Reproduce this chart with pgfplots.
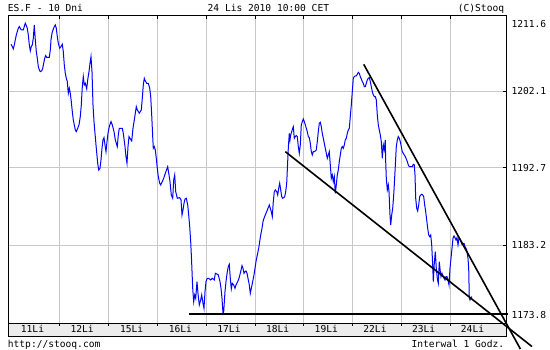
\documentclass[border=0pt]{standalone}
\usepackage{fontspec}
\setmainfont{DejaVu Sans Mono}
\usepackage{pgfplots}
\pgfplotsset{compat=1.18}
\definecolor{gridgray}{RGB}{200,200,200}
\definecolor{bandgray}{RGB}{236,236,236}
\newcommand{\sq}{\fontsize{9.6pt}{11pt}\selectfont}

\begin{document}
\begin{tikzpicture}[font=\sq]
\useasboundingbox (-8.3pt,-26.5pt) rectangle (541.7pt,323.5pt);
% label band under the plot
\fill[bandgray] (0,-13.5pt) rectangle (498pt,0pt);
\draw[line width=1pt] (0,-13.5pt) rectangle (498pt,0pt);
\foreach \X in {51,100,149,198,247.4,295.4,344.2,393,442}
  \draw[line width=1pt] (\X pt,0pt) -- (\X pt,-3pt);
\foreach \X/\L in {24.2/11Li,73.8/12Li,123.3/15Li,172.1/16Li,220.7/17Li,269.4/18Li,318.0/19Li,366.7/22Li,415.4/23Li,464.2/24Li}
  \node[anchor=base, inner sep=0pt] at (\X pt,-9.3pt) {\L};

\begin{axis}[
  scale only axis, width=498pt, height=308pt,
  at={(0pt,0pt)}, anchor=south west,
  xmin=8.3, xmax=506.3, ymin=1173.6, ymax=1211.4,
  clip=false,
  axis line style={line width=1pt},
  grid=major,
  grid style={gridgray, line width=1pt},
  xtick={59.3,108.3,157.3,206.3,255.7,303.7,352.5,401.3,450.3},
  xticklabels={},
  ytick={1183.2,1192.7,1202.1},
  yticklabels={1183.2,1192.7,1202.1},
  xtick pos=upper, ytick pos=upper, yticklabel pos=upper,
  tick align=inside,
  major tick length=3.5pt,
  tick style={black, line width=1pt},
  yticklabel style={font=\sq, anchor=west, inner sep=0pt, xshift=5pt},
]
\addplot[color=blue, line width=1pt, mark=none] coordinates {
(11.0,1207.87) (12.3,1207.58) (13.3,1207.30) (14.3,1207.79) (15.3,1208.40) (16.3,1209.01)
(17.3,1209.42) (18.3,1209.83) (19.3,1210.04) (20.3,1209.83) (21.3,1209.63) (22.3,1209.63)
(23.3,1209.63) (24.3,1210.04) (25.3,1210.45) (26.3,1210.16) (27.3,1209.83) (28.3,1209.01)
(29.3,1207.79) (30.3,1207.05) (31.3,1207.58) (32.3,1207.79) (33.3,1208.61) (34.3,1210.24)
(35.3,1208.40) (36.3,1206.97) (37.3,1206.15) (38.3,1205.13) (39.3,1204.72) (40.3,1204.51)
(41.7,1204.60) (42.7,1204.92) (43.7,1205.54) (44.7,1206.15) (45.7,1206.48) (46.7,1206.27)
(48.3,1206.27) (49.3,1206.27) (50.3,1207.17) (51.0,1208.40) (52.0,1209.22) (53.0,1209.63)
(54.3,1210.04) (55.3,1210.24) (56.3,1209.83) (57.3,1208.81) (58.3,1207.99) (59.7,1207.38)
(61.0,1207.58) (62.3,1207.87) (63.3,1206.97) (64.3,1205.33) (65.3,1204.31) (66.3,1203.70)
(67.3,1203.29) (68.3,1201.85) (69.3,1202.47) (70.3,1201.85) (71.3,1200.83) (72.3,1199.60)
(73.3,1198.58) (74.3,1197.97) (75.3,1197.35) (76.3,1197.15) (77.7,1197.56) (79.0,1197.97)
(80.3,1198.99) (81.3,1200.42) (82.3,1202.67) (83.3,1203.90) (84.3,1202.88) (85.3,1203.08)
(86.7,1202.39) (87.7,1203.49) (89.0,1204.51) (90.0,1205.54) (91.0,1206.36) (92.0,1204.51)
(93.0,1200.42) (94.0,1198.38) (95.0,1196.94) (96.3,1195.10) (97.7,1193.26) (98.7,1192.44)
(100.0,1192.65) (101.0,1193.67) (102.0,1195.10) (103.0,1196.13) (104.0,1196.41) (105.0,1195.51)
(106.0,1194.69) (107.0,1195.92) (108.0,1196.94) (109.3,1197.76) (111.0,1198.38) (112.3,1197.97)
(114.0,1197.15) (115.3,1196.13) (117.3,1195.31) (118.3,1196.74) (119.3,1197.56) (122.3,1197.56)
(123.3,1196.94) (125.0,1195.31) (126.0,1194.08) (127.0,1193.26) (128.0,1195.31) (129.0,1196.54)
(130.0,1196.33) (131.7,1196.00) (133.0,1197.56) (134.3,1198.58) (136.3,1200.22) (137.3,1199.81)
(139.3,1199.40) (141.3,1199.81) (142.3,1201.24) (143.3,1202.88) (144.3,1203.70) (145.3,1203.37)
(146.7,1203.08) (148.3,1203.08) (149.7,1202.47) (150.7,1201.45) (151.7,1199.19) (152.7,1196.54)
(153.3,1195.10) (154.3,1195.31) (155.3,1194.90) (156.3,1193.88) (157.3,1192.65) (158.3,1191.63)
(159.7,1190.81) (160.7,1190.60) (162.3,1191.01) (163.7,1191.42) (165.3,1192.03) (167.7,1192.85)
(169.0,1191.83) (170.0,1191.01) (171.3,1189.37) (172.7,1188.97) (173.7,1191.22) (174.7,1191.83)
(175.7,1189.78) (177.3,1188.97) (179.7,1189.05) (181.0,1188.76) (182.0,1186.92) (183.0,1187.53)
(184.0,1188.35) (185.0,1188.88) (186.3,1188.97) (187.7,1188.15) (188.7,1186.92) (189.7,1185.49)
(190.7,1183.65) (191.7,1180.99) (192.7,1177.92) (193.7,1176.28) (194.7,1177.10) (195.7,1176.69)
(197.0,1178.74) (198.0,1177.30) (199.3,1175.87) (200.7,1176.49) (201.7,1177.10) (203.0,1176.08)
(204.0,1175.46) (205.0,1177.51) (206.0,1178.74) (207.3,1179.15) (208.7,1179.15) (210.7,1178.94)
(212.3,1179.15) (214.3,1178.94) (215.3,1179.76) (217.3,1179.64) (218.3,1179.56) (220.0,1178.74)
(221.0,1177.92) (222.0,1176.69) (223.0,1174.85) (223.7,1175.05) (225.0,1177.51) (226.0,1178.74)
(227.3,1179.96) (228.3,1180.58) (229.3,1180.86) (230.3,1179.15) (231.3,1177.84) (232.3,1178.53)
(233.7,1178.33) (235.0,1177.92) (236.0,1178.33) (237.7,1178.74) (239.0,1179.15) (240.7,1179.96)
(242.0,1180.70) (243.0,1180.37) (244.0,1179.76) (245.0,1179.96) (246.0,1180.04) (247.0,1179.76)
(248.0,1179.15) (249.3,1178.33) (250.3,1177.30) (251.3,1177.92) (252.7,1178.74) (254.0,1179.56)
(255.0,1180.37) (256.0,1181.19) (257.3,1182.01) (258.7,1182.83) (259.7,1183.65) (260.7,1184.46)
(262.0,1185.28) (263.0,1186.10) (264.0,1186.51) (265.3,1186.92) (266.7,1187.33) (268.0,1187.74)
(269.3,1188.15) (270.3,1187.74) (271.3,1187.33) (272.3,1186.72) (273.3,1188.56) (274.3,1189.78)
(275.3,1189.99) (276.7,1189.78) (277.7,1189.37) (278.7,1190.19) (279.7,1190.81) (280.7,1189.99)
(281.7,1189.17) (282.7,1188.97) (283.7,1189.05) (284.7,1189.17) (285.7,1189.78) (286.7,1190.81)
(287.7,1193.47) (288.3,1195.10) (289.3,1196.94) (290.0,1196.13) (290.7,1196.74) (291.7,1197.15)
(292.7,1197.56) (293.3,1197.76) (294.3,1196.33) (295.3,1196.54) (296.3,1196.66) (297.3,1196.54)
(298.3,1195.31) (299.3,1194.49) (300.3,1195.51) (301.3,1197.97) (302.3,1198.38) (303.3,1198.70)
(304.3,1198.38) (305.3,1197.97) (306.3,1197.56) (307.3,1197.15) (308.3,1196.54) (309.3,1196.41)
(310.3,1195.72) (311.3,1194.69) (312.3,1194.28) (313.3,1194.69) (314.3,1194.69) (315.3,1194.78)
(316.3,1194.90) (317.3,1195.92) (318.3,1197.15) (319.3,1198.17) (320.3,1198.30) (321.3,1197.76)
(322.3,1196.94) (323.3,1196.33) (324.3,1195.72) (325.3,1195.10) (326.3,1194.49) (327.3,1193.88)
(328.3,1194.28) (329.3,1194.69) (330.3,1193.06) (331.3,1191.42) (332.3,1191.83) (333.3,1191.01)
(334.3,1191.63) (335.3,1189.58) (336.3,1190.60) (337.3,1191.83) (338.3,1192.44) (339.3,1193.47)
(340.3,1194.28) (341.3,1195.10) (342.3,1195.31) (343.3,1195.10) (344.3,1195.51) (345.3,1196.13)
(346.3,1196.33) (347.3,1196.94) (348.3,1197.35) (349.3,1197.56) (350.3,1198.99) (351.3,1200.42)
(352.3,1202.06) (353.3,1203.70) (354.3,1203.90) (355.3,1203.98) (356.3,1203.98) (357.3,1204.19)
(358.3,1204.43) (359.3,1204.31) (360.3,1203.90) (361.3,1203.61) (362.3,1203.29) (363.3,1203.08)
(364.3,1202.67) (365.3,1202.67) (366.3,1203.08) (367.3,1203.49) (368.3,1203.70) (369.3,1203.78)
(370.3,1203.29) (371.3,1202.67) (372.3,1202.06) (373.3,1201.65) (374.3,1201.45) (375.3,1201.45)
(376.3,1201.04) (377.3,1199.19) (378.3,1197.97) (379.3,1197.35) (380.3,1196.74) (381.3,1195.92)
(382.3,1193.88) (383.3,1195.51) (384.3,1194.90) (385.3,1196.13) (385.7,1193.47) (386.3,1191.42)
(387.3,1189.99) (388.3,1190.60) (389.0,1189.78) (390.0,1186.92) (390.7,1185.69) (391.7,1186.92)
(392.7,1187.74) (393.7,1189.37) (394.3,1190.60) (395.0,1192.24) (395.7,1193.88) (396.3,1195.31)
(397.3,1196.13) (398.3,1196.54) (399.3,1196.33) (400.3,1195.92) (401.3,1195.31) (402.3,1194.69)
(403.3,1194.49) (404.3,1194.28) (405.3,1194.08) (406.3,1193.79) (407.3,1193.47) (408.3,1193.06)
(409.3,1192.85) (411.3,1192.85) (412.3,1192.85) (413.3,1193.14) (414.3,1193.06) (415.0,1191.83)
(415.7,1188.97) (416.7,1187.74) (417.7,1187.41) (418.7,1188.15) (419.7,1189.17) (420.7,1189.37)
(421.7,1189.46) (422.7,1189.37) (423.7,1189.17) (424.7,1188.15) (425.7,1187.33) (426.7,1186.31)
(427.7,1185.28) (428.7,1184.46) (429.7,1184.26) (430.7,1184.46) (431.7,1183.24) (432.7,1180.78)
(433.3,1178.74) (434.3,1180.99) (435.3,1182.42) (436.3,1180.37) (437.3,1179.15) (438.3,1178.53)
(439.3,1181.19) (440.3,1179.96) (441.0,1179.35) (442.0,1179.76) (443.0,1179.35) (444.0,1179.15)
(445.0,1178.94) (446.0,1179.35) (447.0,1179.35) (448.0,1178.94) (449.0,1178.33) (450.0,1180.37)
(451.0,1181.60) (452.0,1182.83) (453.0,1184.06) (454.0,1184.34) (455.0,1184.14) (456.0,1183.85)
(457.0,1184.14) (458.0,1183.24) (459.0,1184.06) (460.0,1183.97) (461.0,1183.65) (462.0,1183.32)
(463.0,1183.44) (464.0,1183.44) (465.0,1183.03) (466.0,1182.83) (467.0,1182.42) (468.0,1181.60)
(468.7,1180.37) (469.3,1176.69) (470.0,1176.49) (471.0,1176.77) (472.0,1176.90)
};
\addplot[black, line width=2.4pt, mark=none] coordinates {(189.3,1174.73) (508,1174.73)};
\addplot[black, line width=1.6pt, mark=none] coordinates {(285.3,1194.69) (532,1170.77)};
\addplot[black, line width=1.6pt, mark=none] coordinates {(363.7,1205.41) (520.4,1170.47)};
\end{axis}
% clamped end labels of the value axis
\node[anchor=west, inner sep=0pt] at (503pt,299.8pt) {1211.6};
\node[anchor=west, inner sep=0pt] at (503pt,8.5pt) {1173.8};
% header and footer texts
\node[anchor=base west, inner sep=0pt] at (-0.6pt,311.8pt) {ES.F - 10 Dni};
\node[anchor=base west, inner sep=0pt] at (199.2pt,311.8pt) {24 Lis 2010 10:00 CET};
\node[anchor=base east, inner sep=0pt] at (496pt,311.8pt) {(C)Stooq};
\node[anchor=base west, inner sep=0pt] at (-0.6pt,-24pt) {http://stooq.com};
\node[anchor=base east, inner sep=0pt] at (496pt,-24pt) {Interwal 1 Godz.};
\end{tikzpicture}
\end{document}
